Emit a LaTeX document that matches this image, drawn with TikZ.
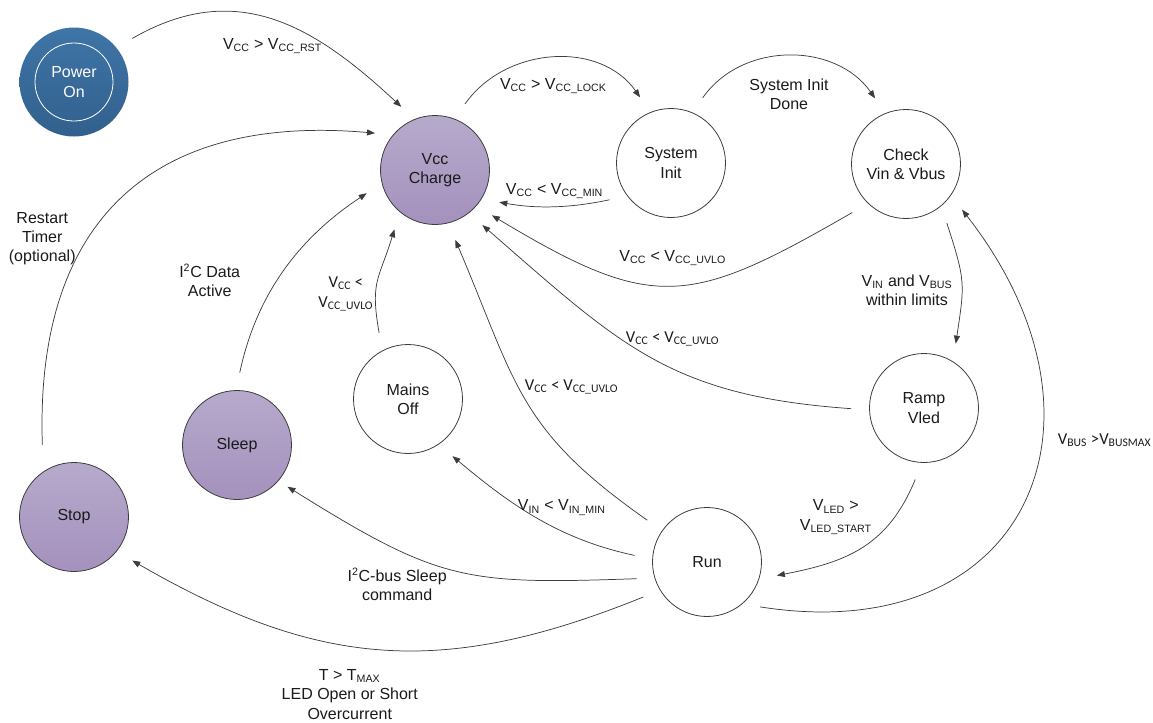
\documentclass[tikz,border=0pt]{standalone}
\usepackage{fontspec}
\setmainfont{Liberation Sans}
\newfontfamily\calibrifont{Carlito}
\usepackage{tikz}
\usetikzlibrary{arrows.meta, positioning}

\newcommand{\vccrst}{V\textsubscript{CC} > V\textsubscript{CC\_RST}}
\newcommand{\vcclock}{V\textsubscript{CC} > V\textsubscript{CC\_LOCK}}
\newcommand{\vccmin}{V\textsubscript{CC} < V\textsubscript{CC\_MIN}}
\newcommand{\vccuvlo}{V\textsubscript{CC} < V\textsubscript{CC\_UVLO}}
\newcommand{\vinmin}{V\textsubscript{IN} < V\textsubscript{IN\_MIN}}
\newcommand{\vbusmax}{V\textsubscript{BUS} >V\textsubscript{BUSMAX}}
\newcommand{\tmax}{T > T\textsubscript{MAX}}
\newcommand{\ledstart}{V\textsubscript{LED} >\\V\textsubscript{LED\_START}}
\newcommand{\inlimits}{V\textsubscript{IN} and V\textsubscript{BUS}\\within limits}

\definecolor{linegrey}{HTML}{3C3C3C}
\definecolor{haltup}{HTML}{B6AACC}
\definecolor{haltdown}{HTML}{A491BD}
\definecolor{powerup}{HTML}{3E75A7}
\definecolor{powerdown}{HTML}{32608D}
\definecolor{inktext}{HTML}{1A1A1A}

\tikzstyle{state} = [circle, draw=linegrey, line width=0.6pt, minimum size=81.75pt,
    inner sep=0pt, align=center, text=inktext, font=\fontsize{12}{14.5}\selectfont]
\tikzstyle{halt} = [state, top color=haltup, bottom color=haltdown]
\tikzstyle{power} = [state, draw=none, top color=powerup, bottom color=powerdown, text=white]
\tikzstyle{cond} = [align=center, text=inktext, font=\fontsize{12}{14.5}\selectfont]
\tikzstyle{condc} = [align=center, text=inktext, font=\calibrifont\fontsize{12.5}{15}\selectfont]
\tikzstyle{arrow} = [draw=linegrey, line width=0.55pt, -{Triangle[length=6pt,width=4.5pt]},
    shorten <=13.5pt, shorten >=13.5pt]

\begin{document}
\begin{tikzpicture}[x=0.75pt, y=-0.75pt]

        \useasboundingbox (0,0) rectangle (1153,722);

        % states
        \node (power) [power] at (74,82) {Power\\On};
        \draw [white, line width=0.6pt] (power.center) circle [radius=29.25pt];

        \node (vcc)   [halt]  at (435,170) {Vcc\\Charge};
        \node (sys)   [state] at (671,163) {System\\Init};
        \node (check) [state] at (906,164) {Check\\Vin \& Vbus};
        \node (ramp)  [state] at (924,408) {Ramp\\Vled};
        \node (run)   [state] at (707,562) {Run};
        \node (mains) [state] at (408,399) {Mains\\Off};
        \node (sleep) [halt]  at (237,445) {Sleep};
        \node (stop)  [halt]  at (74,517)  {Stop};

        % start up
        \draw [arrow] (power.39) to
            [out=30, in=137, looseness=1.15]
            node[cond, yshift=-17.7pt] {\vccrst}
            (vcc.112) ;
        \draw [arrow] (vcc.69) to
            [out=55, in=125, looseness=1.15]
            node[cond, xshift=0.6pt, yshift=-18.4pt] {\vcclock}
            (sys.112) ;
        \draw [arrow] (sys.217) to
            [out=192, in=-10]
            node[cond, yshift=11pt] {\vccmin}
            (vcc.-32) ;
        \draw [arrow] (sys.67) to
            [out=55, in=125, looseness=1.15]
            node[cond, yshift=-26.25pt] {System Init\\Done}
            (check.112) ;
        \draw [arrow] (check.226) to
            [out=210, in=-31, looseness=1.35]
            node[cond, xshift=1pt, yshift=19pt] {\vccuvlo}
            (vcc.-41) ;
        \draw [arrow] (check.-50) to
            [out=-72, in=81.5, looseness=1.3]
            node[cond, xshift=-40.3pt, yshift=-5.6pt] {\inlimits}
            (ramp.58) ;

        % back to vcc charge
        \draw [arrow] (ramp.182) to
            [out=176, in=-41, looseness=1.15]
            node[condc, xshift=16.4pt, yshift=12.5pt] {\vccuvlo}
            (vcc.-52) ;
        \draw [arrow] (run.145) to
            [out=145, in=-67, looseness=1.2]
            node[condc, xshift=33.5pt, yshift=9.6pt] {\vccuvlo}
            (vcc.-76) ;
        \draw [arrow] (mains.118) to
            [out=100, in=253, looseness=1.3]
            node[condc, xshift=-24.5pt, yshift=-9.9pt]
            {V\textsubscript{CC} <\\V\textsubscript{CC\_UVLO}}
            (vcc.230) ;
        \draw [arrow] (sleep.91) to
            [out=78, in=213.5]
            node[cond, xshift=-57pt, yshift=-7.3pt] {I\textsuperscript{2}C Data\\Active}
            (vcc.194) ;
        \draw [arrow, shorten <=20pt] (stop.124) to
            [out=92, in=175, looseness=1.3]
            node[cond, xshift=-60.5pt, yshift=-27pt] {Restart\\Timer\\(optional)}
            (vcc.140) ;

        % leaving run
        \draw [arrow] (ramp.268) to
            [out=247.6, in=11, looseness=1.15]
            node[cond, xshift=-18.75pt, yshift=21.2pt] {\ledstart}
            (run.-18) ;
        \draw [arrow] (run.177) to
            [out=168, in=-40]
            node[cond, xshift=17.9pt, yshift=7.2pt] {\vinmin}
            (mains.-56) ;
        \draw [arrow, shorten >=8pt] (run.197) to
            [out=182, in=-32, looseness=1.25]
            node[cond, xshift=-43.9pt, yshift=-11pt] {I\textsuperscript{2}C-bus Sleep\\command}
            (sleep.-41) ;
        \draw [arrow] (run.211) to
            [out=202, in=-30, looseness=1.1]
            node[cond, xshift=-24.9pt, yshift=-35pt] {\tmax\\LED Open or Short\\Overcurrent}
            (stop.-39) ;
        \draw [arrow] (run.-50) to
            [out=-9, in=-52, looseness=1.6]
            node[condc, xshift=63.9pt, yshift=46.1pt] {\vbusmax}
            (check.-35) ;

\end{tikzpicture}
\end{document}
